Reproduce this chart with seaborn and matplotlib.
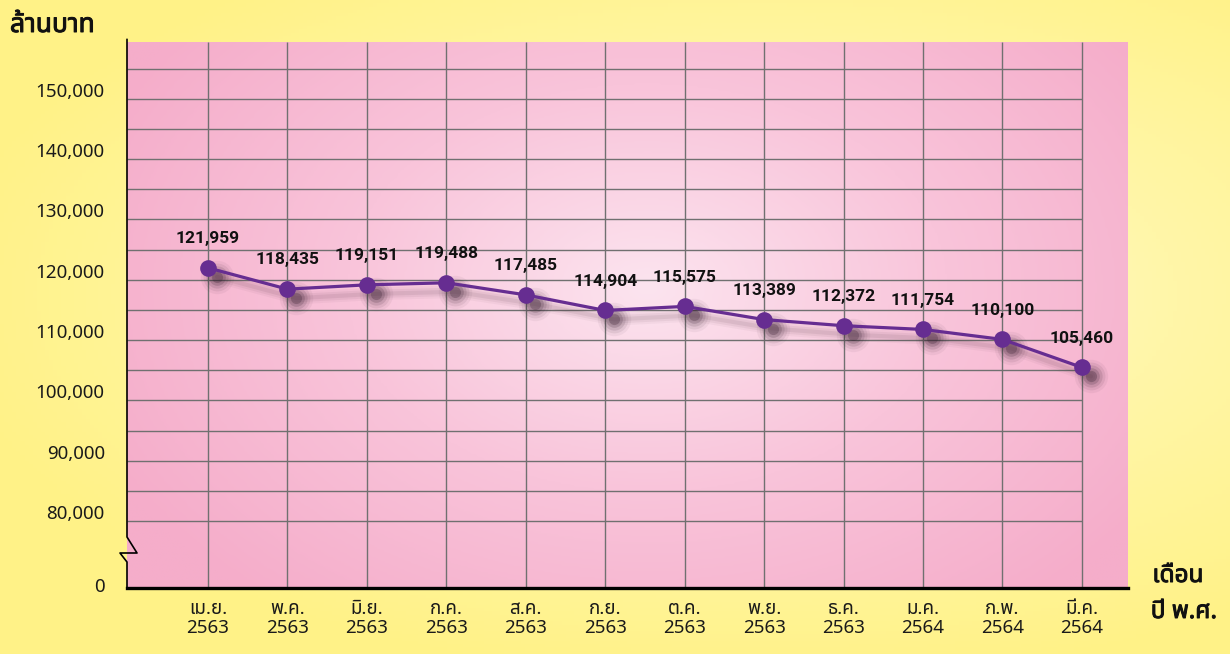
import numpy as np
import pandas as pd
import matplotlib
matplotlib.use('Agg')
import matplotlib.pyplot as plt
import matplotlib.patheffects as pe
import matplotlib.transforms as mtrans
from matplotlib import font_manager
from matplotlib.ft2font import FT2Font
from matplotlib.colors import LinearSegmentedColormap
import seaborn as sns

# data
months = ['เม.ย.', 'พ.ค.', 'มิ.ย.', 'ก.ค.', 'ส.ค.', 'ก.ย.',
          'ต.ค.', 'พ.ย.', 'ธ.ค.', 'ม.ค.', 'ก.พ.', 'มี.ค.']
years = ['2563'] * 9 + ['2564'] * 3
values = [121959, 118435, 119151, 119488, 117485, 114904,
          115575, 113389, 112372, 111754, 110100, 105460]
ytick_values = [80000, 90000, 100000, 110000, 120000, 130000, 140000, 150000]
grid_values = list(range(80000, 155001, 5000))
y_title = 'ล้านบาท'
x_title = ['เดือน', 'ปี พ.ศ.']


def find_font(preferred, char):
    found = {}
    for f in font_manager.fontManager.ttflist:
        try:
            if char in FT2Font(f.fname).get_charmap():
                found.setdefault(f.name, f.fname)
        except Exception:
            pass
    for name in preferred:
        if name in found:
            return name
    return sorted(found)[0] if found else 'DejaVu Sans'


thai_font = find_font(['Noto Sans Thai', 'Noto Sans Thai UI', 'Loma', 'Garuda',
                       'Waree', 'Sarabun', 'Tahoma'], 0x0E01)
print(thai_font)

sns.set_style('white')
plt.rcParams['font.family'] = [thai_font, 'DejaVu Sans']

df = pd.DataFrame({'pos': np.arange(len(values)), 'value': values})

W, H = 1230, 654
fig = plt.figure(figsize=(W / 100, H / 100), dpi=100)

# yellow page background
bg = fig.add_axes([0, 0, 1, 1])
yy, xx = np.mgrid[0:1:200j, 0:1:300j]
r = np.sqrt(((xx - 0.62) / 0.9) ** 2 + ((yy - 0.45) / 0.8) ** 2)
yellow = LinearSegmentedColormap.from_list('y', ['#fffbdc', '#fff6a8', '#fff287'])
bg.imshow(r, cmap=yellow, extent=[0, 1, 0, 1], aspect='auto', vmin=0, vmax=0.75)
bg.axis('off')

rect = [127 / W, 1 - 588 / H, (1128 - 127) / W, (588 - 42) / H]

# pink plot area
pk = fig.add_axes(rect)
r = np.sqrt(((xx - 0.52) / 0.6) ** 2 + ((yy - 0.45) / 0.75) ** 2)
pink = LinearSegmentedColormap.from_list('p', ['#fce4ef', '#f9c4da', '#f5adca'])
pk.imshow(r, cmap=pink, extent=[0, 1, 0, 1], aspect='auto', vmin=0, vmax=1.0)
pk.axis('off')

ax = fig.add_axes(rect)
ax.patch.set_alpha(0)

x_left, x_right = -1.02, 11.58
y_bot, y_top = 68900, 159400

ax.hlines(grid_values, x_left, len(values) - 1, color='#707070', lw=1.0, zorder=1)
ax.vlines(df['pos'], y_bot, y_top, color='#707070', lw=1.0, zorder=1)

# soft drop shadow under the line and dots
shift = ax.transData + mtrans.ScaledTranslation(0.09, -0.09, fig.dpi_scale_trans)
for lw, a in [(9, 0.04), (6, 0.06), (3, 0.08)]:
    ax.plot(df['pos'], df['value'], color='#40202f', lw=lw, alpha=a,
            transform=shift, zorder=2, solid_capstyle='round')
for ms, a in [(24, 0.05), (20, 0.08), (16, 0.12), (12, 0.18), (8, 0.25)]:
    ax.plot(df['pos'], df['value'], 'o', ms=ms, mew=0, color='#30182a',
            alpha=a, transform=shift, zorder=2)

sns.lineplot(data=df, x='pos', y='value', ax=ax, color='#662d91', lw=2.3,
             marker='o', markersize=12, markeredgewidth=0, zorder=3)

for x, v in zip(df['pos'], df['value']):
    ax.annotate(f'{v:,}', (x, v), xytext=(0, 21), textcoords='offset points',
                ha='center', va='center', fontsize=12.5, fontweight='bold',
                family='Roboto', color='#111111', zorder=4)

ax.set_xlim(x_left, x_right)
ax.set_ylim(y_bot, y_top)

ax.set_xticks(df['pos'])
ax.set_xticklabels([f'{m}\n{y}' for m, y in zip(months, years)],
                   fontsize=13.5, linespacing=1.05, color='#1a1a1a')
ax.set_yticks([69400] + ytick_values)
ax.set_yticklabels(['0'] + [f'{v:,}' for v in ytick_values], fontsize=13.5,
                   color='#1a1a1a')
ax.tick_params(axis='x', length=0, pad=9)
ax.tick_params(axis='y', length=0, pad=16)
for lab in ax.get_yticklabels()[1:]:
    lab.set_transform(lab.get_transform() +
                      mtrans.ScaledTranslation(0, 0.09, fig.dpi_scale_trans))
ax.set_xlabel('')
ax.set_ylabel('')

for s in ['top', 'right', 'left']:
    ax.spines[s].set_visible(False)
ax.spines['bottom'].set_color('black')
ax.spines['bottom'].set_linewidth(2.4)

# left axis with break mark
ax.plot([0, 0, 0.010, -0.007, 0, 0], [1.005, 0.0934, 0.0641, 0.0641, 0.0476, 0],
        transform=ax.transAxes, color='black', lw=1.2, clip_on=False, zorder=5)

# the thai face has no bold weight, so thicken it with a stroke
bold = [pe.withStroke(linewidth=0.7, foreground='#111111')]
fig.text(10 / W, 1 - 25 / H, y_title, fontsize=19, color='#111111',
         ha='left', va='center', path_effects=bold)
fig.text(1178 / W, 1 - 576 / H, x_title[0], fontsize=17.5, color='#111111',
         ha='center', va='center', path_effects=bold)
fig.text(1184 / W, 1 - 612 / H, x_title[1], fontsize=17.5, color='#111111',
         ha='center', va='center', path_effects=bold)

plt.savefig('out.png', dpi=100)
